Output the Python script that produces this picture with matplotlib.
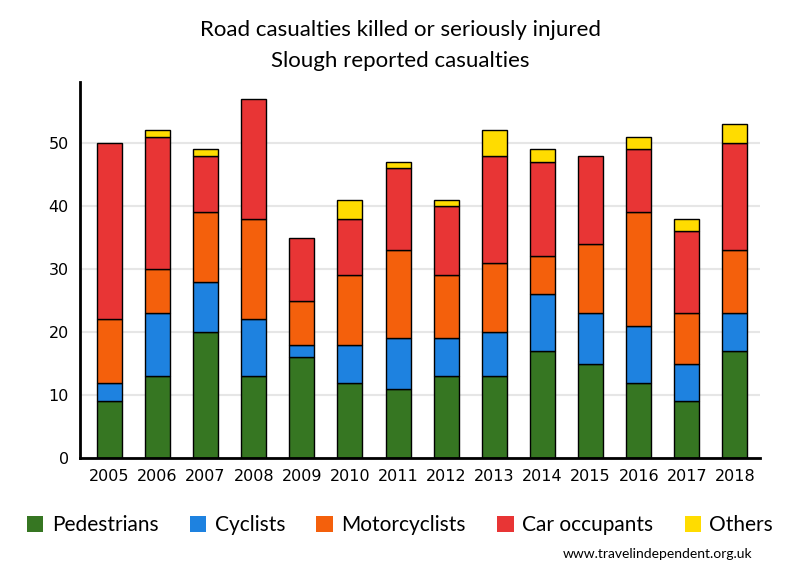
import numpy as np
import matplotlib
matplotlib.use("Agg")
import matplotlib.pyplot as plt
from matplotlib.patches import Patch

years = [str(y) for y in range(2005, 2019)]
pedestrians = [9, 13, 20, 13, 16, 12, 11, 13, 13, 17, 15, 12, 9, 17]
cyclists = [3, 10, 8, 9, 2, 6, 8, 6, 7, 9, 8, 9, 6, 6]
motorcyclists = [10, 7, 11, 16, 7, 11, 14, 10, 11, 6, 11, 18, 8, 10]
car_occupants = [28, 21, 9, 19, 10, 9, 13, 11, 17, 15, 14, 10, 13, 17]
others = [0, 1, 1, 0, 0, 3, 1, 1, 4, 2, 0, 2, 2, 3]

series = [
    ("Pedestrians", pedestrians, "#367622"),
    ("Cyclists", cyclists, "#1e82e0"),
    ("Motorcyclists", motorcyclists, "#f4600c"),
    ("Car occupants", car_occupants, "#e83535"),
    ("Others", others, "#ffdc00"),
]

txt_font = ["Lato", "DejaVu Sans"]

fig = plt.figure(figsize=(8, 5.8), dpi=100)
ax = fig.add_axes([0.1, 0.21, 0.85, 0.649])

x = np.arange(len(years))
bottom = np.zeros(len(years))
for name, vals, col in series:
    vals = np.array(vals, dtype=float)
    mask = vals > 0
    ax.bar(x[mask], vals[mask], 0.52, bottom=bottom[mask], color=col,
           edgecolor="black", linewidth=1, zorder=3)
    bottom += vals

ax.set_xlim(-0.61, 13.52)
ax.set_ylim(0, 59.7)
ax.set_yticks(range(0, 51, 10))
ax.set_xticks(x)
ax.set_xticklabels(years)
ax.yaxis.grid(True, color="#e6e6e6", linewidth=1.5, zorder=0)
ax.tick_params(axis="both", length=0, labelsize=11.5, pad=8)
for s in ["top", "right"]:
    ax.spines[s].set_visible(False)
for s in ["left", "bottom"]:
    ax.spines[s].set_linewidth(2)
    ax.spines[s].set_zorder(4)

fig.text(0.5, 0.948, "Road casualties killed or seriously injured", ha="center",
         va="center", fontsize=16, family=txt_font)
fig.text(0.5, 0.895, "Slough reported casualties", ha="center", va="center",
         fontsize=16, family=txt_font)

handles = [Patch(facecolor=c, edgecolor="none") for _, _, c in series]
labels = [n for n, _, _ in series]
leg = fig.legend(handles, labels, loc="center", bbox_to_anchor=(0.5, 0.095), ncol=5,
                 frameon=False, prop={"family": txt_font, "size": 15},
                 handlelength=0.8, handleheight=0.8, handletextpad=0.4,
                 columnspacing=1.5)

fig.text(0.94, 0.045, "www.travelindependent.org.uk", ha="right", va="center",
         fontsize=10, family=txt_font)

fig.savefig("out.png", dpi=100)
